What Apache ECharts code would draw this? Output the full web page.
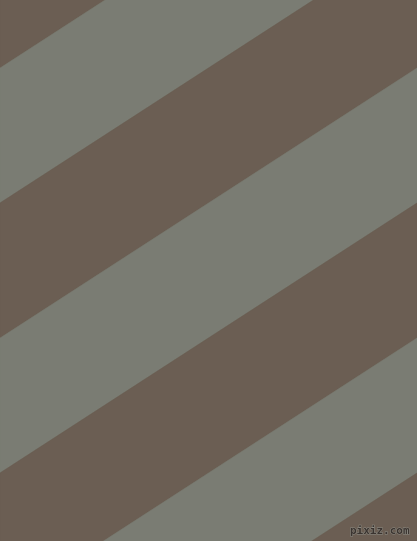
<!DOCTYPE html>
<html>
<head>
<meta charset="utf-8">
<script src="https://cdn.jsdelivr.net/npm/echarts@6/dist/echarts.min.js"></script>
<style>
html,body{margin:0;padding:0;background:#6b5e53;}
#chart{width:417px;height:541px;}
</style>
</head>
<body>
<div id="chart"></div>
<script>
// Band edges: y where each stripe boundary meets the left (x=0) and right (x=417) edge
const leftEdge  = [-67, 68, 203, 338, 473, 608, 743, 878];
const rightEdge = [-337, -202, -67, 68, 203, 338, 473, 608];
const bandColors = ['#6b5e53', '#7a7c73'];
const xRange = [0, 417];
const yRange = [0, 541];
const watermark = 'pixiz.com';

const bands = [];
for (let i = 0; i < leftEdge.length - 1; i++) {
  bands.push([leftEdge[i], leftEdge[i + 1], rightEdge[i], rightEdge[i + 1], i % 2]);
}

const chart = echarts.init(document.getElementById('chart'), null, {renderer: 'canvas'});
chart.setOption({
  animation: false,
  backgroundColor: bandColors[0],
  grid: {left: 0, right: 0, top: 0, bottom: 0},
  xAxis: {type: 'value', min: xRange[0], max: xRange[1], show: false},
  yAxis: {type: 'value', min: yRange[0], max: yRange[1], inverse: true, show: false},
  series: [{
    type: 'custom',
    clip: true,
    z: 1,
    data: bands,
    renderItem: function (params, api) {
      const lt = api.value(0), lb = api.value(1), rt = api.value(2), rb = api.value(3);
      const ci = api.value(4);
      const pts = [
        api.coord([xRange[0], lt]),
        api.coord([xRange[1], rt]),
        api.coord([xRange[1], rb]),
        api.coord([xRange[0], lb])
      ];
      return {
        type: 'polygon',
        shape: {points: pts},
        style: {fill: bandColors[ci], stroke: bandColors[ci], lineWidth: 0.5}
      };
    }
  }],
  graphic: [{
    type: 'text',
    z: 100,
    zlevel: 1,
    right: 7,
    bottom: 4,
    style: {
      text: watermark,
      font: 'bold 11px "DejaVu Sans Mono", monospace',
      fill: '#3b3430',
      stroke: '#8c8b83',
      lineWidth: 1
    }
  }]
});
</script>
</body>
</html>
